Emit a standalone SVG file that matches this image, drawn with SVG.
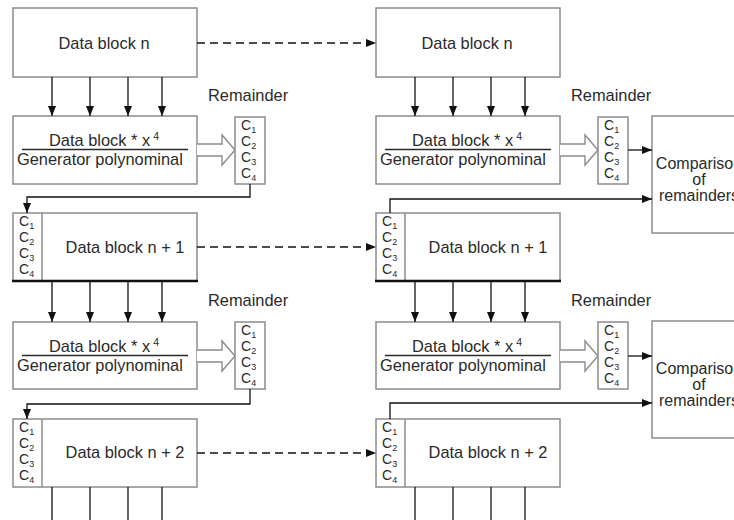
<svg xmlns="http://www.w3.org/2000/svg" width="734" height="520" viewBox="0 0 734 520">
  <defs>
    <style>
      .box { fill: #ffffff; stroke: #8c8c8c; stroke-width: 1.5; }
      .txt { font-family: "Liberation Sans", Arial, sans-serif; font-size: 16.4px; fill: #2a2a2a; }
      .cmp { font-family: "Liberation Sans", Arial, sans-serif; font-size: 16px; fill: #2a2a2a; }
      .c { font-family: "Liberation Sans", Arial, sans-serif; font-size: 14px; fill: #2a2a2a; }
      .sub { font-size: 9px; }
      .sup { font-size: 10.5px; }
      .mid { text-anchor: middle; }
      .frac { stroke: #2a2a2a; stroke-width: 1.3; }
      .wire { fill: none; stroke: #111111; stroke-width: 1.3; }
      .dash { fill: none; stroke: #111111; stroke-width: 1.3; stroke-dasharray: 8 5; }
      .hollow { fill: #ffffff; stroke: #8c8c8c; stroke-width: 1.4; stroke-linejoin: miter; }
      .base { stroke: #111111; stroke-width: 2.6; }
    </style>
    <marker id="arrow" viewBox="0 0 10 8" refX="10" refY="4" markerWidth="10" markerHeight="8" markerUnits="userSpaceOnUse" orient="auto">
      <path d="M0,0 L10,4 L0,8 z" fill="#111111"/>
    </marker>
    <!-- four-line remainder column C1..C4 -->
    <g id="ccol">
      <text class="c" x="0" y="12.5">C<tspan class="sub" dy="3">1</tspan></text>
      <text class="c" x="0" y="28.5">C<tspan class="sub" dy="3">2</tspan></text>
      <text class="c" x="0" y="44.5">C<tspan class="sub" dy="3">3</tspan></text>
      <text class="c" x="0" y="60.5">C<tspan class="sub" dy="3">4</tspan></text>
    </g>
  </defs>

  <rect width="734" height="520" fill="#ffffff"/>

  <!-- ===== left column (sender) ===== -->
  <g id="tx-block-n">
    <rect class="box" x="13" y="8" width="184" height="69"/>
    <text class="txt mid" x="104" y="48.5">Data block n</text>
  </g>

  <g id="tx-division-1">
    <rect class="box" x="13" y="116" width="184" height="68"/>
    <text class="txt" x="49" y="146">Data block * x<tspan class="sup" dx="3" dy="-6">4</tspan></text>
    <line class="frac" x1="22" y1="149.5" x2="188" y2="149.5"/>
    <text class="txt" x="17" y="165">Generator polynominal</text>
  </g>

  <g id="tx-remainder-1">
    <text class="txt" x="208" y="101">Remainder</text>
    <polyline class="hollow" points="197,144 222,144 222,135 235,150 222,165 222,156 197,156"/>
    <rect class="box" x="235" y="117" width="30" height="67"/>
    <use href="#ccol" x="241" y="117"/>
  </g>

  <g id="tx-block-n1">
    <rect class="box" x="13" y="213" width="184" height="68"/>
    <line class="box" x1="42" y1="213" x2="42" y2="281"/>
    <line class="base" x1="12" y1="281" x2="198" y2="281"/>
    <use href="#ccol" x="19" y="213"/>
    <text class="txt mid" x="125" y="253">Data block n + 1</text>
  </g>

  <g id="tx-division-2">
    <rect class="box" x="13" y="322" width="184" height="67"/>
    <text class="txt" x="49" y="352">Data block * x<tspan class="sup" dx="3" dy="-6">4</tspan></text>
    <line class="frac" x1="22" y1="355.5" x2="188" y2="355.5"/>
    <text class="txt" x="17" y="371">Generator polynominal</text>
  </g>

  <g id="tx-remainder-2">
    <text class="txt" x="208" y="306">Remainder</text>
    <polyline class="hollow" points="197,350 222,350 222,341 235,356 222,371 222,362 197,362"/>
    <rect class="box" x="235" y="322" width="30" height="67"/>
    <use href="#ccol" x="241" y="322"/>
  </g>

  <g id="tx-block-n2">
    <rect class="box" x="13" y="419" width="184" height="68"/>
    <line class="box" x1="42" y1="419" x2="42" y2="487"/>
    <use href="#ccol" x="19" y="419"/>
    <text class="txt mid" x="125" y="458">Data block n + 2</text>
  </g>

  <!-- ===== right column (receiver) ===== -->
  <g id="rx-block-n">
    <rect class="box" x="376" y="8" width="184" height="69"/>
    <text class="txt mid" x="467" y="48.5">Data block n</text>
  </g>

  <g id="rx-division-1">
    <rect class="box" x="376" y="116" width="184" height="68"/>
    <text class="txt" x="412" y="146">Data block * x<tspan class="sup" dx="3" dy="-6">4</tspan></text>
    <line class="frac" x1="385" y1="149.5" x2="551" y2="149.5"/>
    <text class="txt" x="380" y="165">Generator polynominal</text>
  </g>

  <g id="rx-remainder-1">
    <text class="txt" x="571" y="101">Remainder</text>
    <polyline class="hollow" points="560,144 585,144 585,135 598,150 585,165 585,156 560,156"/>
    <rect class="box" x="598" y="117" width="30" height="67"/>
    <use href="#ccol" x="604" y="117"/>
  </g>

  <g id="rx-compare-1">
    <rect class="box" x="652" y="116" width="92" height="117"/>
    <text class="cmp mid" x="699" y="169">Comparison</text>
    <text class="cmp mid" x="699" y="185">of</text>
    <text class="cmp mid" x="699" y="201">remainders</text>
  </g>

  <g id="rx-block-n1">
    <rect class="box" x="376" y="213" width="184" height="68"/>
    <line class="box" x1="405" y1="213" x2="405" y2="281"/>
    <line class="base" x1="375" y1="281" x2="561" y2="281"/>
    <use href="#ccol" x="382" y="213"/>
    <text class="txt mid" x="488" y="253">Data block n + 1</text>
  </g>

  <g id="rx-division-2">
    <rect class="box" x="376" y="322" width="184" height="67"/>
    <text class="txt" x="412" y="352">Data block * x<tspan class="sup" dx="3" dy="-6">4</tspan></text>
    <line class="frac" x1="385" y1="355.5" x2="551" y2="355.5"/>
    <text class="txt" x="380" y="371">Generator polynominal</text>
  </g>

  <g id="rx-remainder-2">
    <text class="txt" x="571" y="306">Remainder</text>
    <polyline class="hollow" points="560,350 585,350 585,341 598,356 585,371 585,362 560,362"/>
    <rect class="box" x="598" y="322" width="30" height="67"/>
    <use href="#ccol" x="604" y="322"/>
  </g>

  <g id="rx-compare-2">
    <rect class="box" x="652" y="321" width="92" height="117"/>
    <text class="cmp mid" x="699" y="374">Comparison</text>
    <text class="cmp mid" x="699" y="390">of</text>
    <text class="cmp mid" x="699" y="406">remainders</text>
  </g>

  <g id="rx-block-n2">
    <rect class="box" x="376" y="419" width="184" height="68"/>
    <line class="box" x1="405" y1="419" x2="405" y2="487"/>
    <use href="#ccol" x="382" y="419"/>
    <text class="txt mid" x="488" y="458">Data block n + 2</text>
  </g>

  <!-- ===== connectors ===== -->
  <g id="connectors">
    <!-- transmission, sender to receiver -->
    <line class="dash" x1="197" y1="43" x2="376" y2="43" marker-end="url(#arrow)"/>
    <line class="dash" x1="197" y1="247" x2="376" y2="247" marker-end="url(#arrow)"/>
    <line class="dash" x1="197" y1="453" x2="376" y2="453" marker-end="url(#arrow)"/>

    <!-- data bits into the division stages -->
    <line class="wire" x1="52" y1="77" x2="52" y2="116" marker-end="url(#arrow)"/>
    <line class="wire" x1="90" y1="77" x2="90" y2="116" marker-end="url(#arrow)"/>
    <line class="wire" x1="128" y1="77" x2="128" y2="116" marker-end="url(#arrow)"/>
    <line class="wire" x1="162" y1="77" x2="162" y2="116" marker-end="url(#arrow)"/>
    <line class="wire" x1="415" y1="77" x2="415" y2="116" marker-end="url(#arrow)"/>
    <line class="wire" x1="453" y1="77" x2="453" y2="116" marker-end="url(#arrow)"/>
    <line class="wire" x1="491" y1="77" x2="491" y2="116" marker-end="url(#arrow)"/>
    <line class="wire" x1="525" y1="77" x2="525" y2="116" marker-end="url(#arrow)"/>

    <line class="wire" x1="52" y1="282" x2="52" y2="322" marker-end="url(#arrow)"/>
    <line class="wire" x1="90" y1="282" x2="90" y2="322" marker-end="url(#arrow)"/>
    <line class="wire" x1="128" y1="282" x2="128" y2="322" marker-end="url(#arrow)"/>
    <line class="wire" x1="162" y1="282" x2="162" y2="322" marker-end="url(#arrow)"/>
    <line class="wire" x1="415" y1="282" x2="415" y2="322" marker-end="url(#arrow)"/>
    <line class="wire" x1="453" y1="282" x2="453" y2="322" marker-end="url(#arrow)"/>
    <line class="wire" x1="491" y1="282" x2="491" y2="322" marker-end="url(#arrow)"/>
    <line class="wire" x1="525" y1="282" x2="525" y2="322" marker-end="url(#arrow)"/>

    <line class="wire" x1="52" y1="487" x2="52" y2="520"/>
    <line class="wire" x1="90" y1="487" x2="90" y2="520"/>
    <line class="wire" x1="128" y1="487" x2="128" y2="520"/>
    <line class="wire" x1="162" y1="487" x2="162" y2="520"/>
    <line class="wire" x1="415" y1="487" x2="415" y2="520"/>
    <line class="wire" x1="453" y1="487" x2="453" y2="520"/>
    <line class="wire" x1="491" y1="487" x2="491" y2="520"/>
    <line class="wire" x1="525" y1="487" x2="525" y2="520"/>

    <!-- remainder appended to the next block -->
    <path class="wire" d="M250,184 V197 H27 V213" marker-end="url(#arrow)"/>
    <path class="wire" d="M250,389 V404 H27 V419" marker-end="url(#arrow)"/>

    <!-- receiver: computed vs. received remainder -->
    <line class="wire" x1="628" y1="150" x2="652" y2="150" marker-end="url(#arrow)"/>
    <path class="wire" d="M390,213 V199 H652" marker-end="url(#arrow)"/>
    <line class="wire" x1="628" y1="356" x2="652" y2="356" marker-end="url(#arrow)"/>
    <path class="wire" d="M390,419 V403 H652" marker-end="url(#arrow)"/>
  </g>
</svg>
